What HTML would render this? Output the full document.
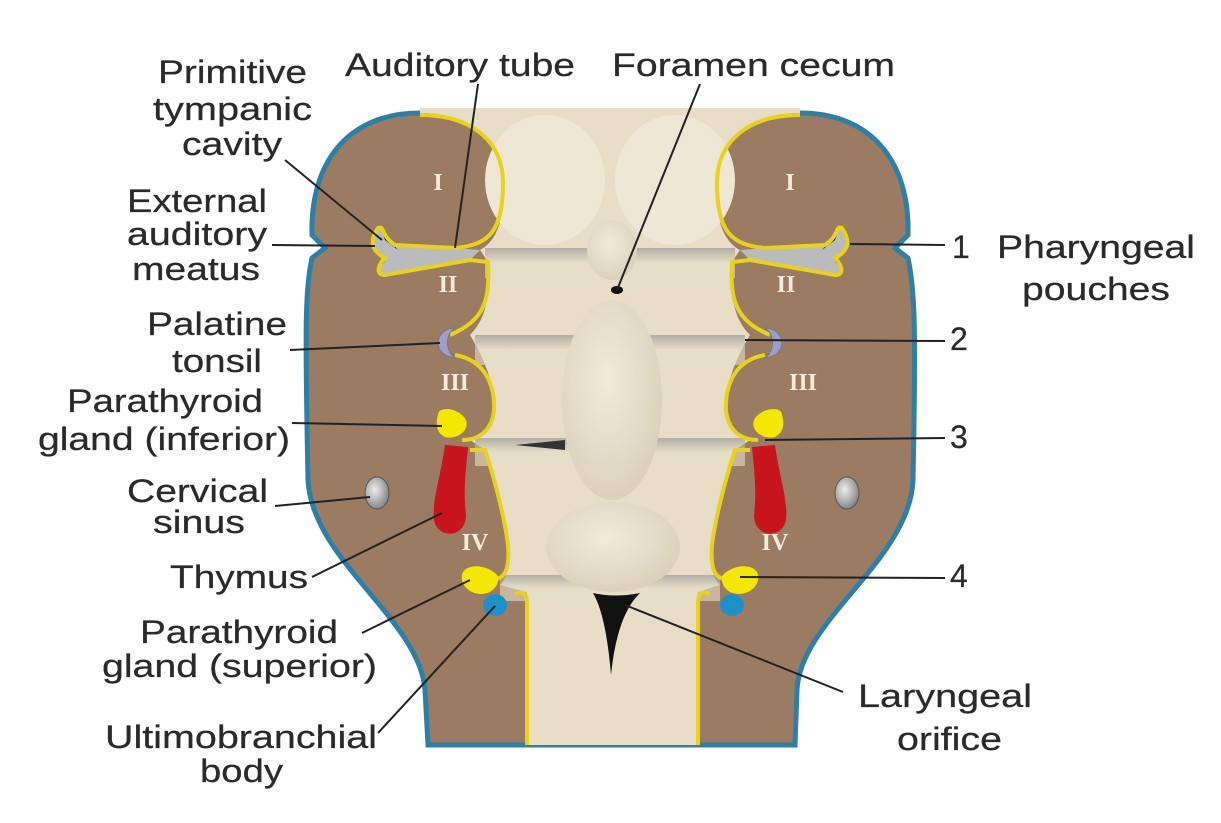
<!DOCTYPE html>
<html><head><meta charset="utf-8"><style>
html,body{margin:0;padding:0;background:#fff;}
svg text.l{font-family:"Liberation Sans",sans-serif;font-size:32px;fill:#2a2a2a;stroke:#2a2a2a;stroke-width:0.25;}
svg text.r{font-family:"Liberation Serif",serif;font-weight:bold;font-size:24px;fill:#f3ecdc;}
</style></head><body>
<svg width="1221" height="818" viewBox="0 0 1221 818" xmlns="http://www.w3.org/2000/svg">
<defs>
<linearGradient id="band" x1="0" y1="0" x2="0" y2="1">
<stop offset="0" stop-color="#8f8f8f"/><stop offset="0.5" stop-color="#e6dec8"/><stop offset="1" stop-color="#e6dec8"/>
</linearGradient>
<radialGradient id="ov" cx="0.45" cy="0.4" r="0.7">
<stop offset="0" stop-color="#f1ebdc"/><stop offset="1" stop-color="#d8cdb5"/>
</radialGradient>
<radialGradient id="gr" cx="0.4" cy="0.4" r="0.7">
<stop offset="0" stop-color="#eee"/><stop offset="1" stop-color="#777"/>
</radialGradient>
</defs>
<path d="M420,113 C350,113 310,160 312,235 L325,248 L312,258 C305,290 305,330 308,480 C312,560 420,620 425,690 L428,745 L795,745 L797,690 C800,620 910,560 913,480 C916,330 915,290 908,258 L895,248 L908,235 C910,160 870,113 800,113 Z" fill="#9b7b62" stroke="#2e7fa6" stroke-width="5"/>
<path d="M420,113 C470,113 505,140 505,183 C505,230 490,245 480,250 L488,262 C490,300 485,320 470,335 C485,360 495,385 494,410 C492,430 480,440 470,440 L485,450 C495,480 505,520 508,545 C510,570 505,580 500,585 L527,592 L527,745 L698,745 L698,592 L720,585 C715,580 710,570 712,545 C715,520 725,480 735,450 L750,440 C740,440 728,430 726,410 C725,385 735,360 750,335 C735,320 730,300 732,262 L740,250 C730,245 715,230 715,183 C715,140 750,113 800,113 L800,108 L420,108 Z" fill="#e8dec8"/>
<rect x="485" y="248" width="250" height="30" fill="url(#band)" opacity="0.6"/>
<rect x="475" y="335" width="270" height="30" fill="url(#band)" opacity="0.6"/>
<rect x="475" y="438" width="270" height="28" fill="url(#band)" opacity="0.6"/>
<rect x="500" y="575" width="220" height="26" fill="url(#band)" opacity="0.6"/>
<path d="M515,445 L565,440 L565,450 Z" fill="#333"/>
<ellipse cx="545" cy="180" rx="60" ry="65" fill="#efe7d5"/>
<ellipse cx="675" cy="180" rx="60" ry="65" fill="#efe7d5"/>
<ellipse cx="612" cy="250" rx="25" ry="30" fill="url(#ov)"/>
<ellipse cx="617" cy="290" rx="6" ry="4" fill="#111"/>
<ellipse cx="612" cy="400" rx="50" ry="100" fill="url(#ov)"/>
<ellipse cx="613" cy="547" rx="67" ry="45" fill="url(#ov)"/>
<path d="M593,593 Q615,598 640,593 Q617,615 611,675 Q606,615 593,593 Z" fill="#111"/>
<path d="M380,228 C372,240 372,252 385,262 C378,268 376,276 388,276 L470,260 L480,250 L455,248 L395,244 Z" fill="#b9bbbc"/>
<path d="M840,228 C848,240 848,252 835,262 C842,268 844,276 832,276 L750,260 L740,250 L765,248 L825,244 Z" fill="#b9bbbc"/>
<path d="M382,232 L398,250 L385,240 Z" fill="#111"/>
<path d="M838,232 L822,250 L835,240 Z" fill="#111"/>
<g fill="none" stroke="#e8d21c" stroke-width="4">
<path d="M420,115 C470,115 503,140 503,183 C503,230 490,245 455,248 L395,245 C380,235 385,225 378,228 C370,240 370,250 385,258 C378,265 375,275 385,275 L470,260 L488,262 C490,300 485,320 450,335"/>
<path d="M455,355 C485,360 495,385 494,410 C492,430 480,440 462,440"/>
<path d="M470,450 L485,450 C495,480 505,520 508,545 C510,570 505,580 490,580"/>
<path d="M515,594 C525,590 527,595 527,605 L527,745"/>
<path d="M800,115 C750,115 717,140 717,183 C717,230 730,245 765,248 L825,245 C840,235 835,225 842,228 C850,240 850,250 835,258 C842,265 845,275 835,275 L750,260 L732,262 C730,300 735,320 770,335"/>
<path d="M765,355 C735,360 725,385 726,410 C728,430 740,440 758,440"/>
<path d="M750,450 L735,450 C725,480 715,520 712,545 C710,570 715,580 730,580"/>
<path d="M710,594 C700,590 698,595 698,605 L698,745"/>
</g>
<path d="M455,328 C435,328 430,355 455,358 C445,350 445,335 455,328 Z" fill="#9c9ec9" stroke="#777" stroke-width="1"/>
<path d="M765,328 C785,328 790,355 765,358 C775,350 775,335 765,328 Z" fill="#9c9ec9" stroke="#777" stroke-width="1"/>
<path d="M438,415 C438,405 460,408 466,420 C470,432 455,440 445,437 C435,432 436,422 438,415 Z" fill="#f4e800"/>
<path d="M782,415 C782,405 760,408 754,420 C750,432 765,440 775,437 C785,432 784,422 782,415 Z" fill="#f4e800"/>
<path d="M445,445 L468,447 C466,470 463,490 466,515 C466,538 438,540 434,520 C432,500 440,480 445,445 Z" fill="#c8141c"/>
<path d="M775,445 L752,447 C754,470 757,490 754,515 C754,538 782,540 786,520 C788,500 780,480 775,445 Z" fill="#c8141c"/>
<ellipse cx="377" cy="493" rx="12" ry="16" fill="url(#gr)" stroke="#555" stroke-width="1"/>
<ellipse cx="847" cy="493" rx="12" ry="16" fill="url(#gr)" stroke="#555" stroke-width="1"/>
<path d="M463,572 C470,562 490,566 498,576 C500,590 485,598 472,592 C462,587 460,578 463,572 Z" fill="#f4e800"/>
<path d="M757,572 C750,562 730,566 722,576 C720,590 735,598 748,592 C758,587 760,578 757,572 Z" fill="#f4e800"/>
<ellipse cx="495" cy="605" rx="12" ry="11" fill="#1f8fc8"/>
<ellipse cx="732" cy="605" rx="12" ry="11" fill="#1f8fc8"/>
<text class="r" x="438" y="190" text-anchor="middle">I</text>
<text class="r" x="790" y="190" text-anchor="middle">I</text>
<text class="r" x="448" y="292" text-anchor="middle">II</text>
<text class="r" x="786" y="292" text-anchor="middle">II</text>
<text class="r" x="455" y="390" text-anchor="middle">III</text>
<text class="r" x="803" y="390" text-anchor="middle">III</text>
<text class="r" x="475" y="550" text-anchor="middle">IV</text>
<text class="r" x="775" y="550" text-anchor="middle">IV</text>
<g stroke="#222" stroke-width="2" fill="none">
<line x1="285" y1="160" x2="382" y2="240"/>
<line x1="478" y1="84" x2="455" y2="248"/>
<line x1="700" y1="84" x2="617" y2="290"/>
<line x1="272" y1="245" x2="375" y2="246"/>
<line x1="290" y1="350" x2="440" y2="343"/>
<line x1="292" y1="423" x2="442" y2="426"/>
<line x1="275" y1="506" x2="370" y2="497"/>
<line x1="312" y1="577" x2="442" y2="513"/>
<line x1="362" y1="633" x2="470" y2="580"/>
<line x1="378" y1="733" x2="495" y2="606"/>
<line x1="843" y1="692" x2="625" y2="605"/>
<line x1="945" y1="245" x2="850" y2="244"/>
<line x1="945" y1="341" x2="745" y2="340"/>
<line x1="945" y1="438" x2="765" y2="440"/>
<line x1="945" y1="578" x2="740" y2="577"/>
</g>
<text class="l" x="158" y="83" textLength="149" lengthAdjust="spacingAndGlyphs">Primitive</text>
<text class="l" x="153" y="120" textLength="159" lengthAdjust="spacingAndGlyphs">tympanic</text>
<text class="l" x="182" y="155" textLength="100" lengthAdjust="spacingAndGlyphs">cavity</text>
<text class="l" x="345" y="76" textLength="230" lengthAdjust="spacingAndGlyphs">Auditory tube</text>
<text class="l" x="612" y="76" textLength="283" lengthAdjust="spacingAndGlyphs">Foramen cecum</text>
<text class="l" x="127" y="212" textLength="140" lengthAdjust="spacingAndGlyphs">External</text>
<text class="l" x="127" y="245" textLength="140" lengthAdjust="spacingAndGlyphs">auditory</text>
<text class="l" x="132" y="280" textLength="128" lengthAdjust="spacingAndGlyphs">meatus</text>
<text class="l" x="147" y="335" textLength="140" lengthAdjust="spacingAndGlyphs">Palatine</text>
<text class="l" x="172" y="372" textLength="90" lengthAdjust="spacingAndGlyphs">tonsil</text>
<text class="l" x="67" y="412" textLength="196" lengthAdjust="spacingAndGlyphs">Parathyroid</text>
<text class="l" x="38" y="450" textLength="252" lengthAdjust="spacingAndGlyphs">gland (inferior)</text>
<text class="l" x="127" y="502" textLength="141" lengthAdjust="spacingAndGlyphs">Cervical</text>
<text class="l" x="153" y="533" textLength="92" lengthAdjust="spacingAndGlyphs">sinus</text>
<text class="l" x="170" y="588" textLength="138" lengthAdjust="spacingAndGlyphs">Thymus</text>
<text class="l" x="140" y="643" textLength="198" lengthAdjust="spacingAndGlyphs">Parathyroid</text>
<text class="l" x="102" y="677" textLength="275" lengthAdjust="spacingAndGlyphs">gland (superior)</text>
<text class="l" x="105" y="748" textLength="272" lengthAdjust="spacingAndGlyphs">Ultimobranchial</text>
<text class="l" x="200" y="782" textLength="83" lengthAdjust="spacingAndGlyphs">body</text>
<text class="l" x="858" y="707" textLength="174" lengthAdjust="spacingAndGlyphs">Laryngeal</text>
<text class="l" x="897" y="750" textLength="105" lengthAdjust="spacingAndGlyphs">orifice</text>
<text class="l" x="952" y="258">1</text>
<text class="l" x="997" y="258" textLength="198" lengthAdjust="spacingAndGlyphs">Pharyngeal</text>
<text class="l" x="1022" y="300" textLength="148" lengthAdjust="spacingAndGlyphs">pouches</text>
<text class="l" x="950" y="350">2</text>
<text class="l" x="950" y="448">3</text>
<text class="l" x="950" y="587">4</text>
</svg>
</body></html>
